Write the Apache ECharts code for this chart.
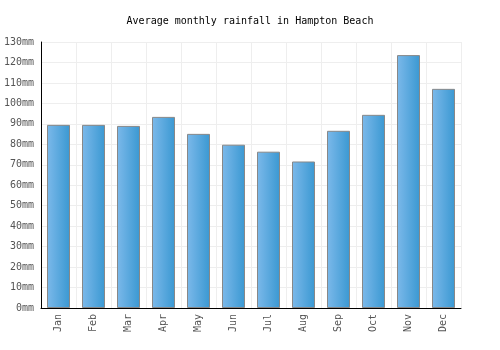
<!DOCTYPE html>
<html>
<head>
<meta charset="utf-8">
<script src="https://cdn.jsdelivr.net/npm/echarts@6/dist/echarts.min.js"></script>
<style>
  html, body { margin: 0; padding: 0; background: #fff; }
  #rain_chart { width: 500px; height: 350px; }
</style>
</head>
<body>
<div id="rain_chart"></div>
<script>
// monthly rainfall, mm
const months = ['Jan', 'Feb', 'Mar', 'Apr', 'May', 'Jun', 'Jul', 'Aug', 'Sep', 'Oct', 'Nov', 'Dec'];
const rainfall = [89.5, 89.5, 89, 93.4, 85.1, 79.8, 76.4, 71.6, 86.6, 94.4, 123.6, 107.1];
const yMin = 0;
const yMax = 130;
const yStep = 10;

const monoFont = '"DejaVu Sans Mono", monospace';

let option = {
  animation: false,
  title: {
    text: 'Average monthly rainfall in Hampton Beach',
    left: 'center',
    top: 11,
    textStyle: { fontFamily: monoFont, fontSize: 10, fontWeight: 'normal', color: '#000' }
  },
  grid: { left: 41, right: 39, top: 42, bottom: 42, containLabel: false },
  xAxis: {
    type: 'category',
    data: months,
    axisLine: { show: true, lineStyle: { color: '#000', width: 1 } },
    axisTick: { show: false },
    splitLine: { show: true, interval: 0, lineStyle: { color: '#eeeeee', width: 1 } },
    axisLabel: {
      rotate: 90,
      interval: 0,
      margin: 6,
      fontFamily: monoFont,
      fontSize: 10,
      color: '#555'
    }
  },
  yAxis: {
    type: 'value',
    min: yMin,
    max: yMax,
    interval: yStep,
    axisLine: { show: true, lineStyle: { color: '#000', width: 1 } },
    axisTick: { show: false },
    splitLine: { show: true, lineStyle: { color: '#eeeeee', width: 1 } },
    axisLabel: {
      margin: 7,
      fontFamily: monoFont,
      fontSize: 10,
      color: '#555',
      formatter: function (v) { return v + 'mm'; }
    }
  },
  series: [
    {
      type: 'bar',
      data: rainfall,
      barWidth: 23,
      itemStyle: {
        borderColor: '#888',
        borderWidth: 1,
        color: new echarts.graphic.LinearGradient(0, 0, 1, 0, [
          { offset: 0, color: '#7cb9ea' },
          { offset: 1, color: '#3a98d2' }
        ])
      }
    }
  ]
};

const rainChart = echarts.init(document.getElementById('rain_chart'));
rainChart.setOption(option);
</script>
</body>
</html>
